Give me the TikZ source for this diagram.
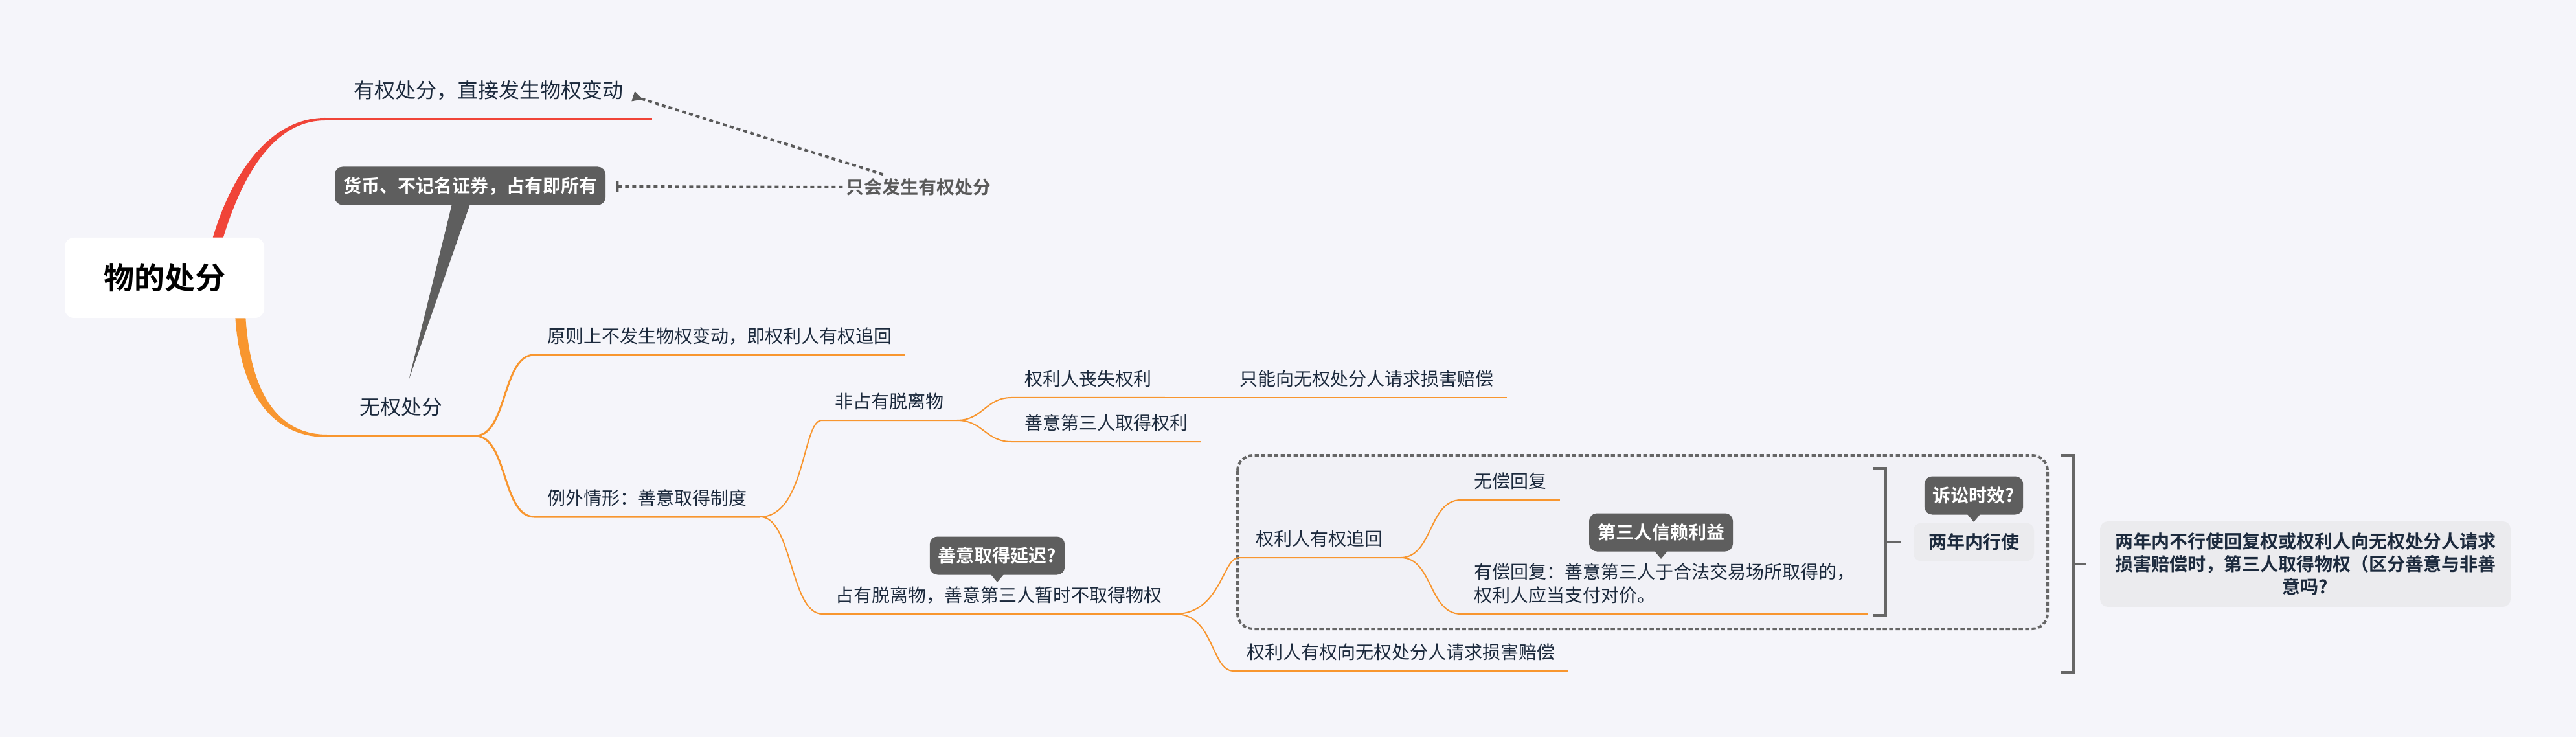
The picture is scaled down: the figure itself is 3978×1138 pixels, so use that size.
\documentclass[tikz,border=0pt]{standalone}
\usepackage{fontspec}
\setmainfont{Noto Sans CJK SC}[BoldFont={Noto Sans CJK SC Bold}]
\usetikzlibrary{arrows.meta,calc}
\definecolor{bg}{HTML}{F5F5FA}
\definecolor{branchred}{HTML}{F04438}
\definecolor{branchorange}{HTML}{F8962F}
\definecolor{calloutgray}{HTML}{5E5E5E}
\definecolor{txt}{HTML}{1C2A3D}
\definecolor{summaryfill}{HTML}{EBEBEE}
\definecolor{groupfill}{HTML}{F1F1F6}
\definecolor{linegray}{HTML}{666666}
\definecolor{relgray}{HTML}{5A5A5A}

\begin{document}
\begin{tikzpicture}[x=0.5pt,y=-0.5pt,
  topic/.style={text=txt, anchor=south west, inner xsep=10pt, inner ysep=5pt,
    text height=10pt, text depth=4pt, font=\fontsize{14}{18}\selectfont},
  maintopic/.style={topic, inner xsep=22pt, inner ysep=12pt, text height=12pt,
    font=\fontsize{16}{19}\selectfont},
  rootbox/.style={fill=white, rounded corners=7pt, minimum width=154pt,
    minimum height=62pt, font=\bfseries\fontsize{23.5}{28}\selectfont},
  callout/.style={fill=calloutgray, text=white, rounded corners=6pt, inner xsep=6.5pt,
    minimum height=29.5pt, font=\bfseries\fontsize{14}{16}\selectfont},
  summary/.style={fill=summaryfill, text=txt, rounded corners=6pt, align=center,
    font=\bfseries\fontsize{14}{17.5}\selectfont},
  lvltwo/.style={draw=branchorange, line width=1.5pt},
  lvlthree/.style={draw=branchorange, line width=1pt},
  bracket/.style={draw=linegray, line width=2pt},
  groupbox/.style={draw=linegray, fill=groupfill, line width=2pt,
    dash pattern=on 3.2pt off 1.8pt, rounded corners=12pt},
  rel/.style={draw=relgray, line width=2pt, dash pattern=on 3pt off 2.5pt},
  rellabel/.style={text=relgray, inner sep=2pt, font=\bfseries\fontsize{14}{16}\selectfont}]
  \useasboundingbox (0,0) rectangle (3978,1138);
  \fill[bg] (0,0) rectangle (3978,1138);
  \draw[groupbox] (1911,703) rectangle (3162,971);

  % topics
  \node[rootbox] (root) at (254,429) {物的处分};
  \node[maintopic] (T1) at (502,184) {有权处分，直接发生物权变动};
  \node[maintopic, minimum width=114pt] (T2) at (505,673) {无权处分};
  \node[topic] (A1) at (825,548) {原则上不发生物权变动，即权利人有权追回};
  \node[topic] (A2) at (825,798) {例外情形：善意取得制度};
  \node[topic] (B1) at (1269,649) {非占有脱离物};
  \node[topic] (B2) at (1270,948) {占有脱离物，善意第三人暂时不取得物权};
  \node[topic] (C1) at (1562,614) {权利人丧失权利};
  \node[topic] (C1a) at (1894,614) {只能向无权处分人请求损害赔偿};
  \node[topic] (C2) at (1562,682) {善意第三人取得权利};
  \node[topic, minimum width=124.5pt] (D1) at (1913,861) {权利人有权追回};
  \node[topic] (D2) at (1905,1036) {权利人有权向无权处分人请求损害赔偿};
  \node[topic] (E1) at (2256,772) {无偿回复};
  \node[topic, text height=, align=left] (E2) at (2256,948)
    {有偿回复：善意第三人于合法交易场所取得的，\\权利人应当支付对价。};

  % main branches
  \fill[branchred] ($(root.37)+(-8,0)$) .. controls +(26,-89) and +(-90,0) .. ($(T1.south west)+(0,-2)$)
    -- ($(T1.south west)+(0,2)$) .. controls +(-84,0) and +(26,-85) .. ($(root.37)+(8,0)$) -- cycle;
  \draw[branchred, line width=2pt] (T1.south west) -- (T1.south east);
  \fill[branchorange] ($(root.-28)+(-8,0)$) .. controls +(8,111) and +(-89,0) .. ($(T2.south west)+(0,2)$)
    -- ($(T2.south west)+(0,-2)$) .. controls +(-81,0) and +(7,107) .. ($(root.-28)+(8,0)$) -- cycle;
  \draw[branchorange, line width=2pt] (T2.south west) -- (T2.south east);

  \draw[lvltwo] (T2.south east) .. controls +(50,0) and +(-50,0) .. (A1.south west) -- (A1.south east);
  \draw[lvltwo] (T2.south east) .. controls +(50,0) and +(-50,0) .. (A2.south west) -- (A2.south east);
  \draw[lvlthree] (A2.south east) .. controls +(70,0) and +(-30,0) .. (B1.south west) -- (B1.south east);
  \draw[lvlthree] (A2.south east) .. controls +(50,0) and +(-50,0) .. (B2.south west) -- (B2.south east);
  \draw[lvlthree] (B1.south east) .. controls +(40,0) and +(-40,0) .. (C1.south west) -- (C1.south east);
  \draw[lvlthree] (C1.south east) -- (C1a.south west) -- (C1a.south east);
  \draw[lvlthree] (B1.south east) .. controls +(40,0) and +(-40,0) .. (C2.south west) -- (C2.south east);
  \draw[lvlthree] (B2.south east) .. controls +(70,0) and +(-25,0) .. (D1.south west) -- (D1.south east);
  \draw[lvlthree] (B2.south east) .. controls +(60,0) and +(-35,0) .. (D2.south west) -- (D2.south east);
  \draw[lvlthree] (D1.south east) .. controls +(50,0) and +(-50,0) .. (E1.south west) -- (E1.south east);
  \draw[lvlthree] (D1.south east) .. controls +(50,0) and +(-50,0) .. (E2.south west) -- (E2.south east);

  % summaries
  \draw[bracket] (2893,723) -- (2912,723) -- (2912,950) -- (2893,950);
  \draw[bracket] (2912,837) -- (2935,837);
  \draw[bracket] (3182,703) -- (3202,703) -- (3202,1038) -- (3182,1038);
  \draw[bracket] (3202,871) -- (3222,871);
  \node[summary, minimum width=93pt, minimum height=29.5pt] (S1) at (3048,837) {两年内行使};
  \node[summary, minimum width=317pt, minimum height=66pt] (S2) at (3560,871)
    {两年内不行使回复权或权利人向无权处分人请求\\损害赔偿时，第三人取得物权（区分善意与非善\\意吗?};

  % callouts
  \node[callout] (K1) at (726,287) {货币、不记名证券，占有即所有};
  \node[callout] (K2) at (1540,858) {善意取得延迟?};
  \node[callout] (K3) at (2565,822) {第三人信赖利益};
  \node[callout] (K4) at (3048,765) {诉讼时效?};
  \fill[calloutgray] ($(K1.south)+(-28,-2)$) -- ($(K1.south)+(0,-2)$) -- ($(T2.north)+(12,-6)$) -- cycle;
  \fill[calloutgray] ($(K2.south)+(-10,-1)$) -- ($(K2.south)+(10,-1)$) -- ($(K2.south)+(0,11)$) -- cycle;
  \fill[calloutgray] ($(K3.south)+(-10,-1)$) -- ($(K3.south)+(10,-1)$) -- ($(K3.south)+(0,11)$) -- cycle;
  \fill[calloutgray] ($(K4.south)+(-10,-1)$) -- ($(K4.south)+(10,-1)$) -- ($(K4.south)+(0,11)$) -- cycle;

  % relationship
  \node[rellabel] (L) at (1418,289) {只会发生有权处分};
  \draw[rel, {Bar[width=8pt]}-] ($(K1.east)+(16,1)$) -- (L.west);
  \draw[rel, -{Triangle[reversed, length=8pt, width=7.5pt]}] ($(L.north west)+(62,-2)$) -- ($(T1.east)+(-29,5)$);
\end{tikzpicture}
\end{document}
